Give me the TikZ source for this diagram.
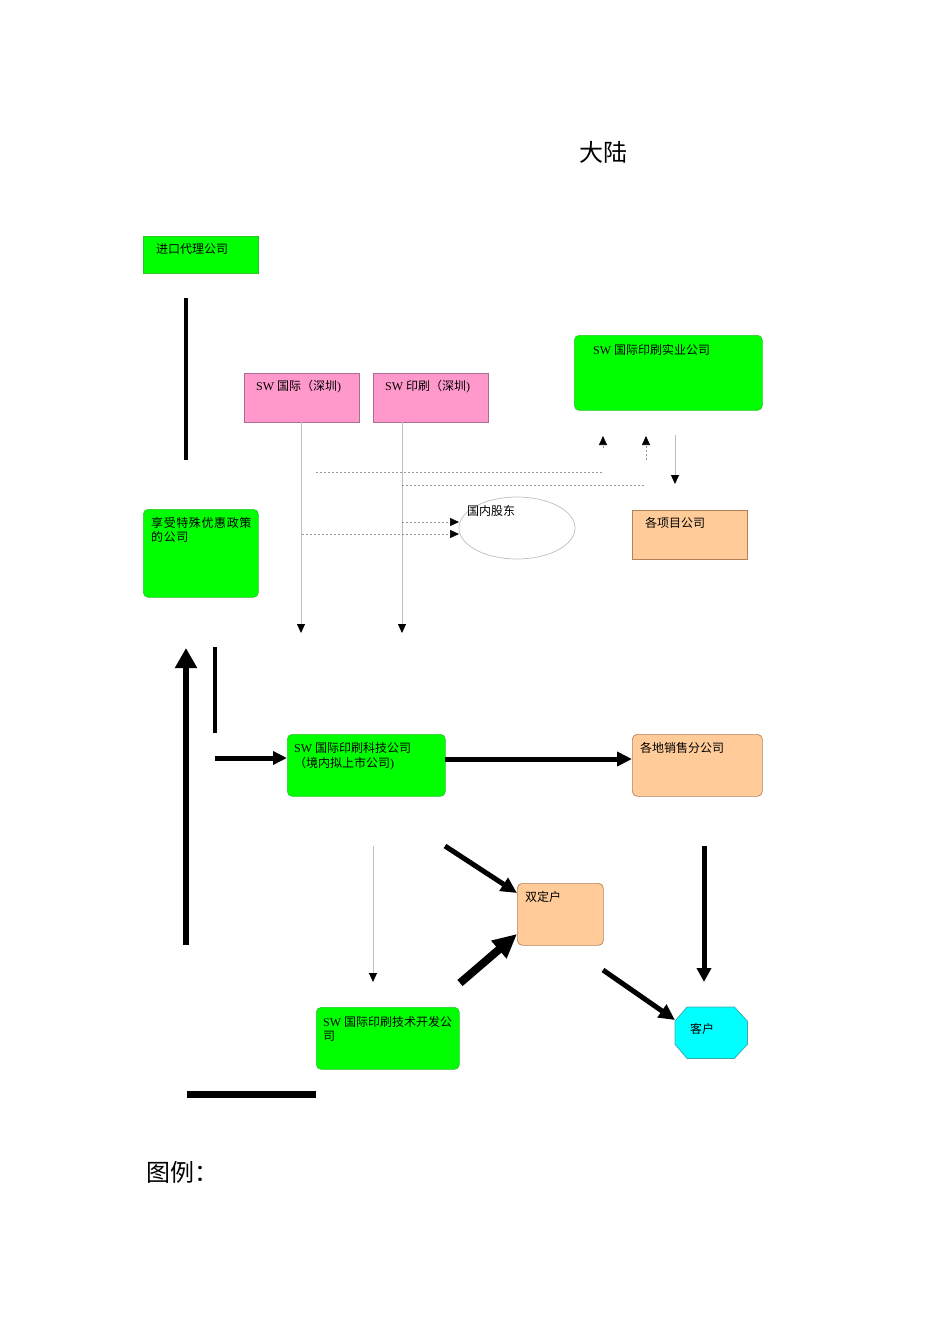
\documentclass[tikz,border=0pt]{standalone}
\usepackage{fontspec}
\setmainfont{Liberation Serif}
\newfontfamily\cjk{Noto Sans CJK SC}
\newfontfamily\cjkwide[LetterSpace=5]{Noto Sans CJK SC}
\usetikzlibrary{arrows.meta,calc,shapes.geometric}
\definecolor{bgreen}{RGB}{0,255,0}
\definecolor{bgreenline}{RGB}{40,200,40}
\definecolor{bpink}{RGB}{255,153,204}
\definecolor{bpinkline}{RGB}{170,110,150}
\definecolor{borange}{RGB}{255,204,153}
\definecolor{borangeline}{RGB}{180,130,90}
\definecolor{bcyan}{RGB}{0,255,255}
\definecolor{bcyanline}{RGB}{60,170,170}
\definecolor{thingray}{RGB}{190,190,190}
\definecolor{dashgray}{RGB}{150,150,150}
\begin{document}
\begin{tikzpicture}[x=1pt,y=-1pt,
  box/.style={anchor=north west, inner sep=0pt, line width=0.7pt},
  greenbox/.style={box, fill=bgreen, draw=bgreenline},
  pinkbox/.style={box, fill=bpink, draw=bpinkline},
  orangebox/.style={box, fill=borange, draw=borangeline},
  rnd/.style={rounded corners=5pt},
  txt/.style={anchor=base west, inner sep=0pt, font=\fontsize{12}{14}\selectfont},
  title/.style={anchor=base west, inner sep=0pt, font=\fontsize{24}{28}\selectfont},
  thinarrow/.style={draw=thingray, line width=0.8pt, -{Triangle[length=9pt,width=8pt,color=black]}},
  dashline/.style={draw=dashgray, line width=0.6pt, dash pattern=on 2pt off 2pt},
  dasharrow/.style={dashline, -{Triangle[length=9pt,width=8pt,color=black]}},
  heavy/.style={line width=#1, draw=black},
]
\useasboundingbox (0,0) rectangle (950,1344);
\fill[white] (0,0) rectangle (950,1344);

% titles
\node[title] (dalu) at (579,161) {\cjk 大陆};
\node[title] (tuli) at (146,1181) {\cjk 图例：};

% boxes
\node[greenbox, minimum width=115pt, minimum height=37pt] (jk) at (143,236) {};
\node[txt] (jkt) at (156,253.5) {\cjk 进口代理公司};

\node[pinkbox, minimum width=115pt, minimum height=49pt] (gj) at (244,373) {};
\node[txt] (gjt) at (256,390) {SW {\cjk 国际（深圳})};
\node[pinkbox, minimum width=115pt, minimum height=49pt] (ys) at (373,373) {};
\node[txt] (yst) at (385,390) {SW {\cjk 印刷（深圳})};

\node[greenbox, rnd, minimum width=188pt, minimum height=75pt] (sy) at (574,335) {};
\node[txt] (syt) at (593,354) {SW {\cjk 国际印刷实业公司}};

\node[ellipse, draw=thingray, fill=white, line width=0.7pt, minimum width=116pt, minimum height=62pt, inner sep=0pt] (gd) at (517,528) {};
\node[txt] (gdt) at (467,515) {\cjk 国内股东};

\node[orangebox, minimum width=115pt, minimum height=49pt] (xm) at (632,510) {};
\node[txt] (xmt) at (645,527) {\cjk 各项目公司};

\node[greenbox, rnd, minimum width=115pt, minimum height=88pt] (xs) at (143,509) {};
\node[txt] (xst1) at (151,527) {\cjkwide 享受特殊优惠政策};
\node[txt] (xst2) at (151,541) {\cjkwide 的公司};

\node[greenbox, rnd, minimum width=158pt, minimum height=62pt] (kj) at (287,734) {};
\node[txt] (kjt1) at (294,752) {SW {\cjk 国际印刷科技公司}};
\node[txt] (kjt2) at (294,767) {{\cjk （境内拟上市公司})};

\node[orangebox, rnd, minimum width=130pt, minimum height=62pt] (xsf) at (632,734) {};
\node[txt] (xsft) at (640,752) {\cjk 各地销售分公司};

\node[orangebox, rnd, minimum width=86pt, minimum height=62pt] (sd) at (517,883) {};
\node[txt] (sdt) at (525,901) {\cjk 双定户};

\node[greenbox, rnd, minimum width=143pt, minimum height=62pt] (kf) at (316,1007) {};
\node[txt] (kft1) at (323,1026) {SW {\cjk 国际印刷技术开发公}};
\node[txt] (kft2) at (323,1040) {\cjk 司};

% octagon
\node[anchor=north west, inner sep=0pt, minimum width=72pt, minimum height=51pt] (kh) at (675,1007) {};
\draw[fill=bcyan, draw=bcyanline, line width=0.7pt]
  ($(kh.north west)+(12,0)$) -- ($(kh.north east)+(-13,0)$) -- ($(kh.north east)+(0,14)$)
  -- ($(kh.south east)+(0,-14)$) -- ($(kh.south east)+(-13,0)$) -- ($(kh.south west)+(12,0)$)
  -- ($(kh.south west)+(0,-14)$) -- ($(kh.north west)+(0,14)$) -- cycle;
\node[txt] (kht) at (690,1033) {\cjk 客户};

% coordinates
\coordinate (a1) at (186,298); \coordinate (a2) at (186,460);
\coordinate (b1) at (186,945); \coordinate (b2) at (186,648);
\coordinate (c1) at (215,647); \coordinate (c2) at (215,733);
\coordinate (d1) at (215,758);
\coordinate (e1) at (445,759);
\coordinate (f1) at (445,846); \coordinate (f2) at (517,893);
\coordinate (g1) at (460,983); \coordinate (g2) at (517,934);
\coordinate (h1) at (603,970); \coordinate (h2) at (675,1020);
\coordinate (i1) at (704,846); \coordinate (i2) at (704,982);
\coordinate (j1) at (373,846); \coordinate (j2) at (373,982);
\coordinate (k1) at (187,1094.5); \coordinate (k2) at (316,1094.5);
\coordinate (m1) at (301,422); \coordinate (m2) at (301,633);
\coordinate (n1) at (402,422); \coordinate (n2) at (402,633);
\coordinate (p1) at (675,435); \coordinate (p2) at (675,484);
\coordinate (q1) at (603,448); \coordinate (q2) at (603,436);
\coordinate (r1) at (646,460); \coordinate (r2) at (646,436);
\coordinate (s1) at (316,472); \coordinate (s2) at (602,472);
\coordinate (t1) at (402,485); \coordinate (t2) at (645,485);
\coordinate (u1) at (402,522); \coordinate (u2) at (459,522);
\coordinate (v1) at (302,534); \coordinate (v2) at (459,534);

% heavy connectors
\draw[heavy=4.5pt] (a1) -- (a2);
\draw[heavy=6pt, -{Triangle[length=20pt,width=21pt]}] (b1) -- (b2);
\draw[heavy=4pt] (c1) -- (c2);
\draw[heavy=5pt, -{Triangle[length=14pt,width=13pt]}] (d1) -- (d1 -| kj.west);
\draw[heavy=5pt, -{Triangle[length=15pt,width=14pt]}] (e1) -- (e1 -| xsf.west);
\draw[heavy=5pt, -{Triangle[length=16pt,width=15pt]}] (f1) -- (f2);
\draw[heavy=8pt, -{Triangle[length=24pt,width=22pt]}] (g1) -- (g2);
\draw[heavy=5pt, -{Triangle[length=16pt,width=15pt]}] (h1) -- (h2);
\draw[heavy=5pt, -{Triangle[length=14pt,width=14pt]}] (i1) -- (i2);
\draw[heavy=7pt] (k1) -- (k2);

% thin connectors
\draw[thinarrow] (j1) -- (j2);
\draw[thinarrow] (m1) -- (m2);
\draw[thinarrow] (n1) -- (n2);
\draw[thinarrow] (p1) -- (p2);
\draw[dasharrow] (q1) -- (q2);
\draw[dasharrow] (r1) -- (r2);
\draw[dashline] (s1) -- (s2);
\draw[dashline] (t1) -- (t2);
\draw[dasharrow] (u1) -- (u2);
\draw[dasharrow] (v1) -- (v2);
\end{tikzpicture}
\end{document}
